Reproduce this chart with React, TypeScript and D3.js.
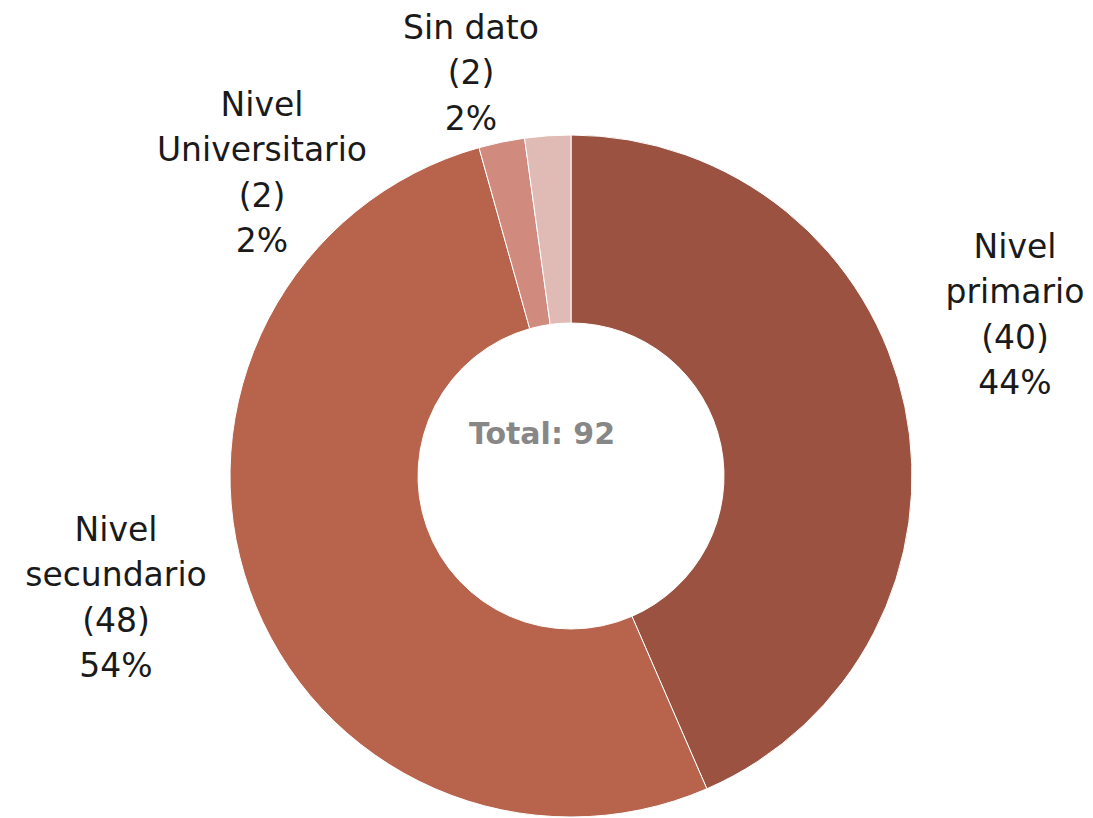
import React from "react";
import * as d3 from "d3";

const categories = ["Nivel primario", "Nivel secundario", "Nivel Universitario", "Sin dato"];
const values = [40, 48, 2, 2];
const percentLabels = ["44%", "54%", "2%", "2%"];
const labelLines = [
  ["Nivel", "primario", "(40)", "44%"],
  ["Nivel", "secundario", "(48)", "54%"],
  ["Nivel", "Universitario", "(2)", "2%"],
  ["Sin dato", "(2)", "2%"],
];
const colors = ["#9B5240", "#B8634C", "#D08B7E", "#E0BBB6"];
const totalLabel = "Total: 92";

const W = 1093, H = 818;
const cx = 571, cy = 476, R = 341, r = 153;
const labelPos = [
  { x: 1015, y: 246 },
  { x: 116, y: 529 },
  { x: 262, y: 104 },
  { x: 471, y: 27 },
];
const lineH = 45.5;

export default function App() {
  const data = categories.map((c, i) => ({ c, v: values[i], i }));
  const pie = d3.pie<any>().value((d) => d.v).sort(null);
  const arcs = pie(data);
  const arc = d3.arc<any>().innerRadius(r).outerRadius(R);
  return (
    <svg width={W} height={H} style={{ position: "absolute", left: 0, top: 0 }}>
      <g transform={`translate(${cx},${cy})`}>
        {arcs.map((a, i) => (
          <path key={i} d={arc(a) as string} fill={colors[i]} stroke="#fff" strokeWidth={1} />
        ))}
      </g>
      <text x={542} y={433} textAnchor="middle" dominantBaseline="central" fontFamily="DejaVu Sans" fontWeight="bold" fontSize={30} fill="#878787">
        {totalLabel}
      </text>
      {labelLines.map((lines, i) => (
        <text key={i} textAnchor="middle" fontFamily="DejaVu Sans" fontSize={33} fill="#1a1a1a">
          {lines.map((l, j) => (
            <tspan key={j} x={labelPos[i].x} y={labelPos[i].y + j * lineH} dominantBaseline="central">
              {l === percentLabels[i] ? percentLabels[i] : l}
            </tspan>
          ))}
        </text>
      ))}
    </svg>
  );
}
